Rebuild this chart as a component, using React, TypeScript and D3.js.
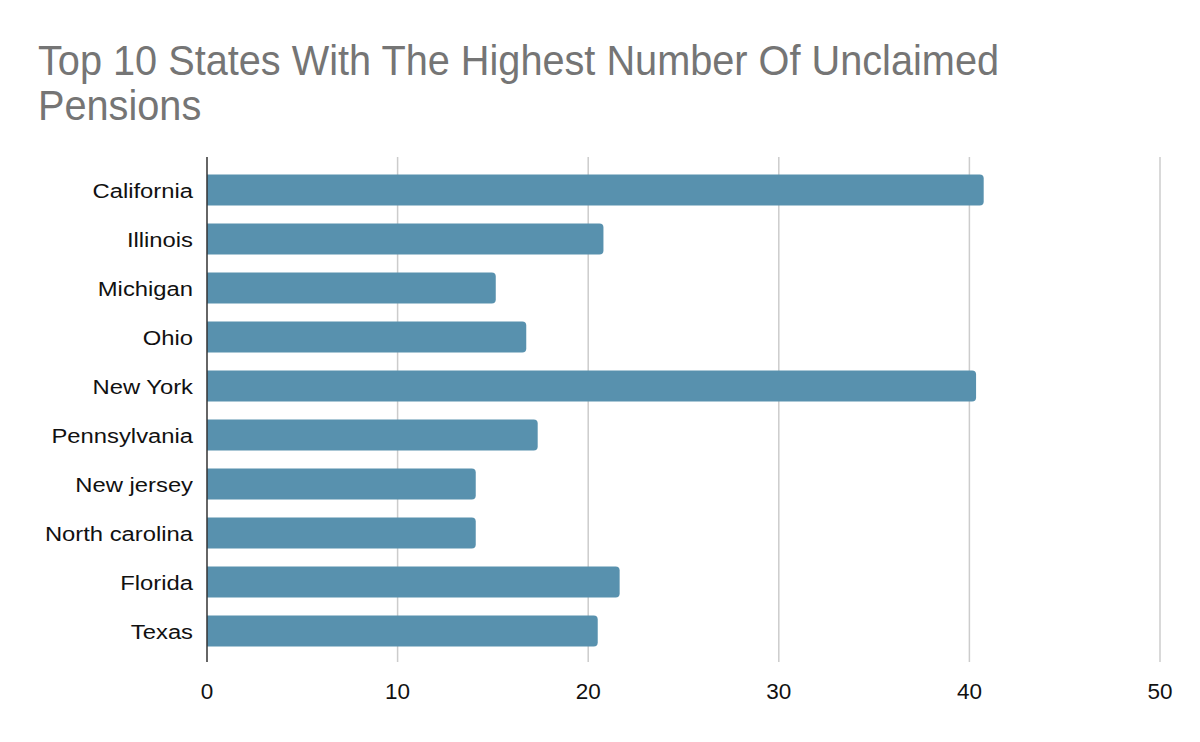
import React from "react";
import * as d3 from "d3";

const states = ["California", "Illinois", "Michigan", "Ohio", "New York", "Pennsylvania", "New jersey", "North carolina", "Florida", "Texas"];
const values = [40.75, 20.8, 15.15, 16.75, 40.35, 17.35, 14.1, 14.1, 21.65, 20.5];
const xTicks = [0, 10, 20, 30, 40, 50];
const titleLines = ["Top 10 States With The Highest Number Of Unclaimed", "Pensions"];

const W = 1200, H = 742;
const FONT = "'Liberation Sans', Arimo, Arial, sans-serif";

export default function App() {
  const x = d3.scaleLinear().domain([0, 50]).range([207, 1160]);
  const y = d3.scaleBand<string>().domain(states).range([165.5, 655.5]).paddingInner(0.37).paddingOuter(0.185);
  const gridTop = 157, gridBottom = 662;
  const r = 4;
  const barPath = (v: number, s: string) => {
    const x0 = x(0), x1 = x(v), y0 = y(s)!, h = y.bandwidth();
    return `M${x0},${y0}H${x1 - r}A${r},${r} 0 0 1 ${x1},${y0 + r}V${y0 + h - r}A${r},${r} 0 0 1 ${x1 - r},${y0 + h}H${x0}Z`;
  };
  return (
    <svg width={W} height={H} style={{ position: "absolute", left: 0, top: 0, background: "#fff", fontFamily: FONT }}>
      <rect width={W} height={H} fill="#fff" />
      {titleLines.map((t, i) => (
        <text key={i} transform={`translate(38,${75 + i * 45}) scale(0.945,1)`} fontSize={42} fill="#757575" style={{ fontFamily: FONT }}>{t}</text>
      ))}
      {xTicks.filter(t => t !== 0).map(t => (
        <line key={t} x1={x(t)} x2={x(t)} y1={gridTop} y2={gridBottom} stroke="#cccccc" strokeWidth={1.5} />
      ))}
      {states.map((s, i) => (
        <path key={s} d={barPath(values[i], s)} fill="#5891ae" />
      ))}
      <line x1={x(0)} x2={x(0)} y1={gridTop} y2={gridBottom} stroke="#333" strokeWidth={1.5} />
      {states.map(s => (
        <text key={s} transform={`translate(193,${y(s)! + y.bandwidth() / 2 + 7.5}) scale(1.19,1)`} textAnchor="end" fontSize={20} fill="#111" style={{ fontFamily: FONT }}>{s}</text>
      ))}
      {xTicks.map(t => (
        <text key={t} x={x(t)} y={699} textAnchor="middle" fontSize={22.5} fill="#111" style={{ fontFamily: FONT }}>{t}</text>
      ))}
    </svg>
  );
}
